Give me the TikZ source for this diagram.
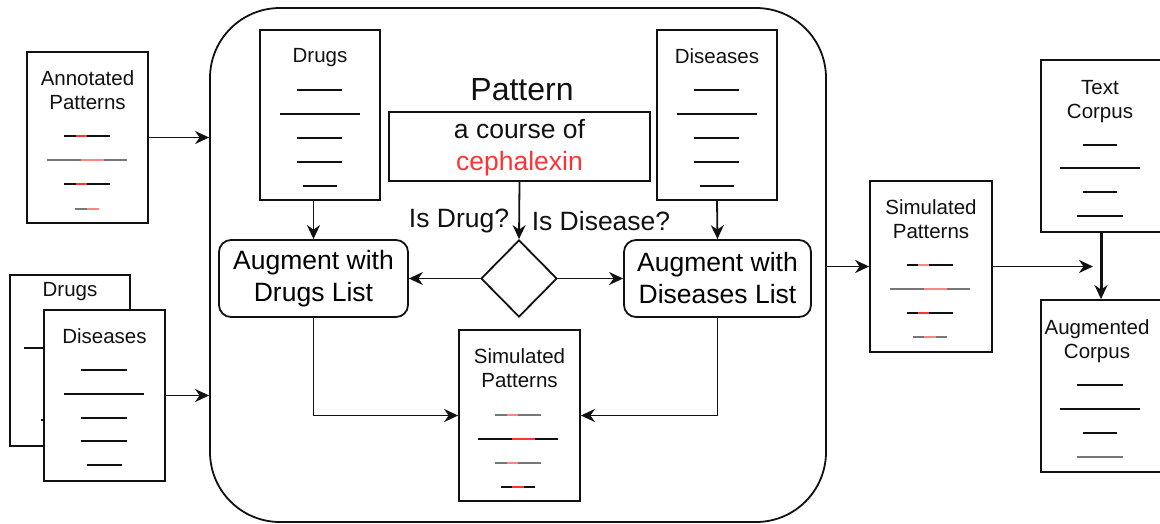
\documentclass[tikz,border=0pt]{standalone}
\usepackage{fontspec}
\setmainfont{Liberation Sans}
\usetikzlibrary{arrows.meta,shapes.geometric}
\definecolor{redA}{HTML}{FF3333}
\definecolor{redB}{HTML}{FF8585}
\definecolor{grayA}{HTML}{777777}
\definecolor{inkA}{HTML}{111111}
\newcommand\dl[4]{\draw[docline,#4] (#1,#3) -- (#2,#3);}
\tikzset{
  docbox/.style={draw=inkA, line width=1.8pt, fill=white, inner sep=0pt, minimum width=121pt, minimum height=171pt},
  smalltxt/.style={font=\fontsize{20.5}{24}\selectfont, align=center, inner sep=0pt, text=inkA},
  bigtxt/.style={font=\fontsize{26.5}{32}\selectfont, align=center, inner sep=0pt, text=inkA},
  docline/.style={line width=1.6pt},
  augbox/.style={draw=inkA, line width=1.8pt, rounded corners=12pt, inner sep=0pt, minimum height=77pt, font=\fontsize{26.5}{32}\selectfont, align=center},
  arr/.style={draw=inkA, line width=1.8pt, -{Stealth[length=14pt,width=13pt,inset=4.5pt]}},
}
\begin{document}
\begin{tikzpicture}[x=1pt,y=-1pt]
\useasboundingbox (0,0) rectangle (1160,523);
\clip (0,0) rectangle (1160,523);

% main container
\node[draw=inkA, line width=1.8pt, rounded corners=70pt, minimum width=616pt, minimum height=514pt, inner sep=0pt] (main) at (518,265) {};

% Annotated patterns
\node[docbox] (ann) at (87.5,137.5) {};
\node[smalltxt] (annT) at (87.5,90) {Annotated\\Patterns};
\dl{64}{110}{136}{inkA} \dl{76}{87}{136}{redA}
\dl{47}{127}{160}{grayA} \dl{81}{104}{160}{redB}
\dl{64}{110}{184}{inkA} \dl{76}{87}{184}{redA}
\dl{75}{87}{209}{grayA} \dl{87}{99}{209}{redB}

% back Drugs list
\node[docbox, minimum width=120pt] (drB) at (70,360.5) {};
\node[smalltxt] (drBT) at (70,292) {Drugs};
\dl{24}{104}{348}{inkA}
\dl{41}{87}{420}{inkA}
% front Diseases list
\node[docbox] (disB) at (104.5,395.5) {};
\node[smalltxt] (disBT) at (104.5,336) {Diseases};
\dl{81}{127}{370}{inkA}
\dl{64}{144}{394}{inkA}
\dl{81}{127}{418}{inkA}
\dl{81}{127}{441}{inkA}
\dl{87}{122}{465}{inkA}

% inner Drugs
\node[docbox, minimum width=120pt, minimum height=170pt] (drI) at (320,115) {};
\node[smalltxt] (drIT) at (320,57.5) {Drugs};
\dl{297}{342}{90}{inkA}
\dl{280}{360}{114}{inkA}
\dl{297}{342}{138}{inkA}
\dl{297}{342}{162}{inkA}
\dl{303}{337}{186}{inkA}

% inner Diseases
\node[docbox, minimum width=120pt, minimum height=170pt] (diI) at (717,115) {};
\node[smalltxt] (diIT) at (717,56) {Diseases};
\dl{694}{739}{90}{inkA}
\dl{677}{757}{114}{inkA}
\dl{694}{739}{138}{inkA}
\dl{694}{739}{162}{inkA}
\dl{700}{734}{186}{inkA}

% Pattern
\node[font=\fontsize{32}{38}\selectfont, inner sep=0pt, text=inkA] (patT) at (522,90) {Pattern};
\node[draw=inkA, line width=1.8pt, minimum width=261pt, minimum height=69pt, inner sep=0pt] (patB) at (519.5,146.5) {};
\node[bigtxt] (patX) at (519.5,148) {a course of\\\textcolor{redA}{cephalexin}};

% diamond and augment boxes
\node[draw=inkA, line width=1.8pt, diamond, minimum width=76pt, minimum height=77pt, inner sep=0pt] (dia) at (519,278.5) {};
\node[bigtxt] (isDr) at (459,221) {Is Drug?};
\node[bigtxt] (isDi) at (601,221) {Is Disease?};
\node[augbox, minimum width=189pt] (augD) at (313.5,278.5) {Augment with\\Drugs List};
\node[augbox, minimum width=187pt] (augS) at (717.5,278.5) {Augment with\\Diseases List};

% inner simulated patterns
\node[docbox] (simI) at (519.5,415.5) {};
\node[smalltxt] (simIT) at (519.5,368.5) {Simulated\\Patterns};
\dl{495}{541}{415}{grayA} \dl{507}{518}{415}{redB}
\dl{478}{558}{439}{inkA} \dl{512}{535}{439}{redA}
\dl{495}{541}{463}{grayA} \dl{507}{518}{463}{redB}
\dl{501}{535}{487}{inkA} \dl{512}{524}{487}{redA}

% right simulated patterns
\node[docbox, minimum width=122pt] (simR) at (931,266.5) {};
\node[smalltxt] (simRT) at (931,219) {Simulated\\Patterns};
\dl{907}{953}{265}{inkA} \dl{918}{929}{265}{redB}
\dl{890}{970}{289}{grayA} \dl{924}{947}{289}{redB}
\dl{907}{953}{313}{inkA} \dl{918}{929}{313}{redA}
\dl{913}{947}{337}{grayA} \dl{924}{936}{337}{redB}

% Text corpus
\node[docbox, minimum height=172pt] (textC) at (1101.5,146) {};
\node[smalltxt] (textCT) at (1100,102) {Text\\Corpus};
\dl{1083}{1117}{145}{inkA}
\dl{1060}{1140}{168}{inkA}
\dl{1083}{1117}{192}{inkA}
\dl{1077}{1123}{216}{inkA}

% Augmented corpus
\node[docbox, minimum height=172pt] (augC) at (1101.5,386) {};
\node[smalltxt] (augCT) at (1097,341) {Augmented\\Corpus};
\dl{1077}{1123}{385}{inkA}
\dl{1060}{1140}{409}{inkA}
\dl{1083}{1117}{433}{inkA}
\dl{1077}{1123}{457}{grayA}

% connectors
\draw[arr] (ann.east) -- (ann.east -| main.west);
\draw[arr] (disB.east) -- (disB.east -| main.west);
\draw[arr] (augD.north |- drI.south) -- (augD.north);
\draw[arr] (diI.south) -- (augS.north);
\draw[arr] (patB.south) -- (dia.north);
\draw[arr] (dia.west) -- (augD.east);
\draw[arr] (dia.east) -- (augS.west);
\draw[arr] (augD.south) |- (simI.west);
\draw[arr] (augS.south) |- (simI.east);
\draw[arr] (simR.west -| main.east) -- (simR.west);
\coordinate (joinR) at (1093,266.5);
\draw[arr] (simR.east) -- (joinR);
\draw[arr, line width=3pt] (textC.south -| 1101,0) -- (augC.north -| 1101,0);
\end{tikzpicture}
\end{document}
